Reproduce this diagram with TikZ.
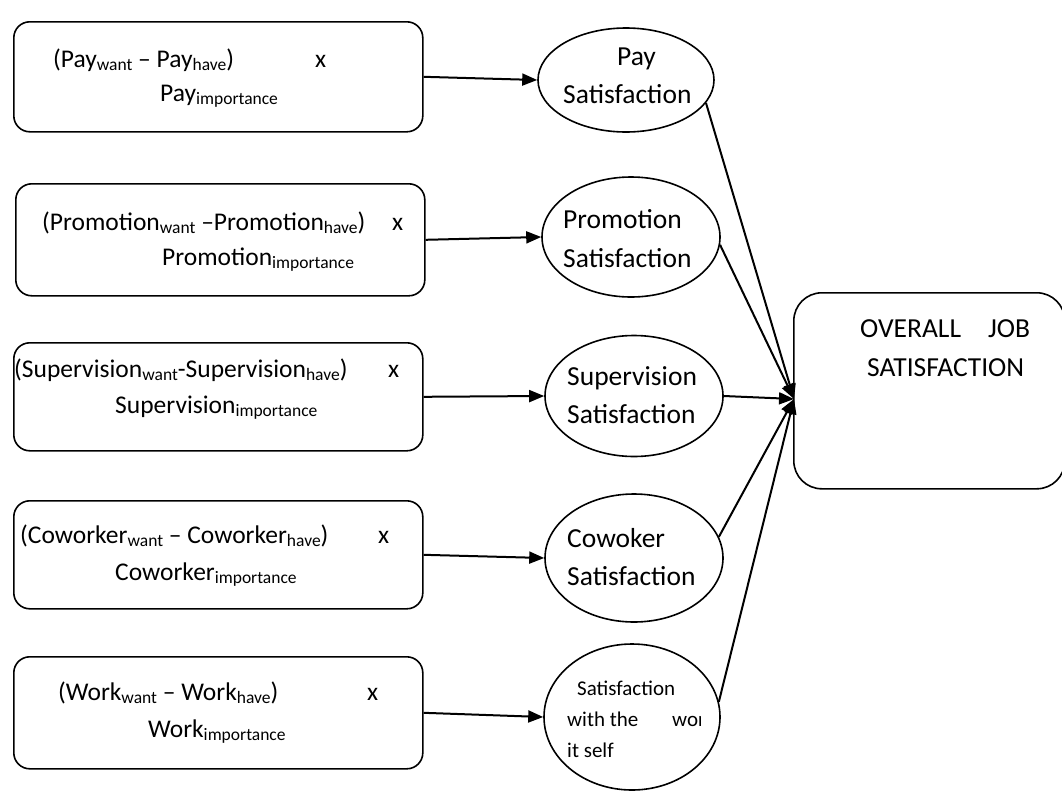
\documentclass[tikz,border=0pt]{standalone}
\usepackage{fontspec}
\setmainfont{Carlito}
\usetikzlibrary{shapes.geometric,arrows.meta}
\newcommand\subtx[1]{\raisebox{-0.12em}{\fontsize{17.5}{18}\selectfont #1}}
\begin{document}
\begin{tikzpicture}[x=1pt,y=-1pt,
  boxst/.style={draw,line width=1.6pt,rounded corners=16pt,minimum width=409pt,minimum height=110pt,inner sep=0pt,anchor=north west},
  bigst/.style={draw,line width=1.6pt,rounded corners=28pt,minimum width=271pt,minimum height=196pt,inner sep=0pt,anchor=north west},
  ellst/.style={draw,ellipse,line width=1.6pt,inner sep=0pt,minimum width=178pt},
  txt/.style={anchor=base west,inner sep=0pt,font=\fontsize{25.5}{28}\selectfont},
  etxt/.style={anchor=base west,inner sep=0pt,font=\fontsize{27.5}{30}\selectfont},
  stxt/.style={anchor=base west,inner sep=0pt,font=\fontsize{21}{25}\selectfont},
  arr/.style={line width=2pt,-{Triangle[length=15pt,width=12pt]}}]
\fill[white] (0,0) rectangle (1062,790);
\useasboundingbox (0,0) rectangle (1062,790);

% left boxes
\node[boxst] (b1) at (13,21) {};
\node[boxst,minimum height=112pt] (b2) at (15,183) {};
\node[boxst,minimum height=108pt] (b3) at (13,342) {};
\node[boxst,minimum height=108pt] (b4) at (13,500) {};
\node[boxst,minimum height=112pt] (b5) at (13,656) {};

% ellipses
\node[ellst,minimum width=176pt,minimum height=104pt] (e1) at (626,80) {};
\node[ellst,minimum height=120pt] (e2) at (631,237) {};
\node[ellst,minimum height=121pt] (e3) at (634,396) {};
\node[ellst,minimum height=128pt] (e4) at (634,558) {};
\node[ellst,minimum width=176pt,minimum height=146pt] (e5) at (632,717) {};

% big box
\node[bigst] (big) at (793,292) {};
\coordinate (hub) at (794,399);

% box texts
\node[txt] (t1a) at (53,67) {(Pay\subtx{want} – Pay\subtx{have})};
\node[txt] (t1x) at (315,67) {x};
\node[txt] (t1b) at (160,101) {Pay\subtx{importance}};

\node[txt] (t2a) at (42,230) {(Promotion\subtx{want} –Promotion\subtx{have})};
\node[txt] (t2x) at (392,230) {x};
\node[txt] (t2b) at (162,265) {Promotion\subtx{importance}};

\node[txt] (t3a) at (14,377) {(Supervision\subtx{want}-Supervision\subtx{have})};
\node[txt] (t3x) at (388,377) {x};
\node[txt] (t3b) at (115,413) {Supervision\subtx{importance}};

\node[txt] (t4a) at (20,543) {(Coworker\subtx{want} – Coworker\subtx{have})};
\node[txt] (t4x) at (378,543) {x};
\node[txt] (t4b) at (115,580) {Coworker\subtx{importance}};

\node[txt] (t5a) at (58,700) {(Work\subtx{want} – Work\subtx{have})};
\node[txt] (t5x) at (367,700) {x};
\node[txt] (t5b) at (148,737) {Work\subtx{importance}};

% ellipse texts
\node[etxt] (s1a) at (617,65) {Pay};
\node[etxt] (s1b) at (563,103) {Satisfaction};
\node[etxt] (s2a) at (563,228) {Promotion};
\node[etxt] (s2b) at (563,267) {Satisfaction};
\node[etxt] (s3a) at (567,385) {Supervision};
\node[etxt] (s3b) at (567,423) {Satisfaction};
\node[etxt] (s4a) at (567,547) {Cowoker};
\node[etxt] (s4b) at (567,585) {Satisfaction};
\node[stxt] (s5a) at (577,695) {Satisfaction};
\node[stxt] (s5b) at (567,726) {with the};
\begin{scope}
  \clip (660,700) rectangle (700,735);
  \node[stxt] (s5c) at (672,726) {work};
\end{scope}
\node[stxt] (s5d) at (567,757) {it self};

% big box text
\node[etxt] (o1) at (860,337) {OVERALL};
\node[etxt] (o2) at (988,337) {JOB};
\node[etxt] (o3) at (867,376) {SATISFACTION};

% connectors
\draw[arr] (b1.east) -- (e1.west);
\draw[arr] (b2.east) -- (e2.west);
\draw[arr] (b3.east) -- (e3.west);
\draw[arr] (b4.east) -- (e4.west);
\draw[arr] (b5.east) -- (e5.west);

\draw[arr] (e1.-16) -- (hub);
\draw[arr] (e2.-5) -- (hub);
\draw[arr] (e3.east) -- (hub);
\draw[arr] (e4.14) -- (hub);
\draw[arr] (e5.10) -- (hub);
\end{tikzpicture}
\end{document}
